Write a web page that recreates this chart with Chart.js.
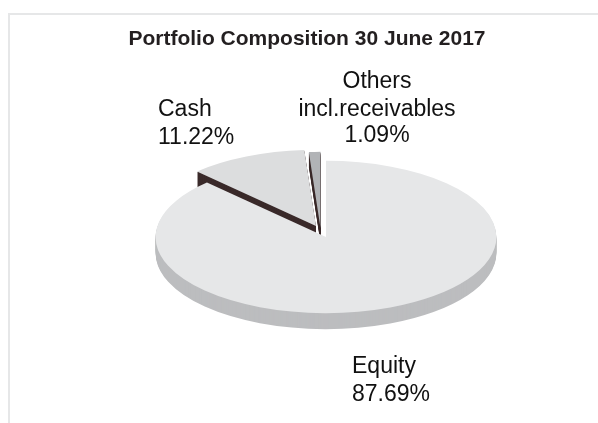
<!DOCTYPE html>
<html lang="en">
<head>
<meta charset="UTF-8">
<title>Portfolio Composition</title>
<script src="https://cdn.jsdelivr.net/npm/chart.js"></script>
<style>
    html, body { margin: 0; padding: 0; background: #fff; overflow: hidden; }
    #frame { position: absolute; left: 8px; top: 13px; right: 0; bottom: 0; border-left: 2px solid #e6e7e8; border-top: 2px solid #e6e7e8; }
    #wrap { position: absolute; left: 16px; top: 0; width: 582px; height: 423px; }
</style>
</head>
<body>
<div id="frame"></div>
<div id="wrap"><canvas id="pie" width="582" height="423"></canvas></div>
<script>
const categories = ['Equity', 'Cash', 'Others incl.receivables'];
const shares = [87.69, 11.22, 1.09];
const titleText = 'Portfolio Composition 30 June 2017';

// colours of the top faces and of the extruded sides
const topColors = ['#e6e7e8', '#dcddde', '#b1b3b6'];
const sideColors = ['#bcbdbf', '#3a2a2a', '#3a2a2a'];

// fake 3D look
const squash = 0.447;
const centerX = 19; // pie sits right of the title centre
const centerY = 237;
const sliceShift = [[0, 0], [-10, -11], [-5.5, -9]];
const sliceDepth = [16, 15, 15];
const sideOrder = [0, 1, 2];
const topOrder = [1, 2, 0];

// slice captions, drawn on canvas (canvas x is page x - 16)
const captions = [
    { text: 'Others', x: 361, y: 88, align: 'center' },
    { text: 'incl.receivables', x: 361, y: 116, align: 'center' },
    { text: '1.09%', x: 361, y: 142, align: 'center' },
    { text: 'Cash', x: 142, y: 116, align: 'left' },
    { text: '11.22%', x: 142, y: 144, align: 'left' },
    { text: 'Equity', x: 336, y: 373, align: 'left' },
    { text: '87.69%', x: 336, y: 401, align: 'left' }
];

function drawSlice(ctx, arc, index, drop, color) {
    const saved = arc.options;
    const opts = Object.create(saved);
    opts.backgroundColor = color;
    arc.options = opts;
    ctx.save();
    ctx.translate(centerX + sliceShift[index][0], centerY + sliceShift[index][1] + drop);
    ctx.scale(1, squash);
    ctx.translate(0, -arc.y);
    arc.draw(ctx);
    ctx.restore();
    arc.options = saved;
}

const tiltedPie = {
    id: 'tiltedPie',
    beforeDatasetDraw(chart) {
        const ctx = chart.ctx;
        const arcs = chart.getDatasetMeta(0).data;
        sideOrder.forEach(i => {
            for (let d = sliceDepth[i]; d > 0; d--) {
                drawSlice(ctx, arcs[i], i, d, sideColors[i]);
            }
        });
        topOrder.forEach(i => drawSlice(ctx, arcs[i], i, 0, topColors[i]));
        return false;
    },
    afterDraw(chart) {
        const ctx = chart.ctx;
        ctx.save();
        ctx.fillStyle = '#111111';
        ctx.font = '23px "Liberation Sans"';
        ctx.textBaseline = 'alphabetic';
        captions.forEach(c => {
            ctx.textAlign = c.align;
            ctx.fillText(c.text, c.x, c.y);
        });
        ctx.restore();
    }
};

new Chart(document.getElementById('pie'), {
    type: 'pie',
    data: {
        labels: categories,
        datasets: [{ data: shares, backgroundColor: topColors, borderWidth: 0 }]
    },
    options: {
        responsive: false,
        animation: false,
        layout: { padding: { left: 0, right: 0, top: 0, bottom: 30 } },
        plugins: {
            legend: { display: false },
            tooltip: { enabled: false },
            title: {
                display: true,
                text: titleText,
                color: '#231f20',
                font: { family: '"Liberation Sans"', size: 21, weight: 'bold' },
                padding: { top: 27, bottom: 0 }
            }
        }
    },
    plugins: [tiltedPie]
});
</script>
</body>
</html>
